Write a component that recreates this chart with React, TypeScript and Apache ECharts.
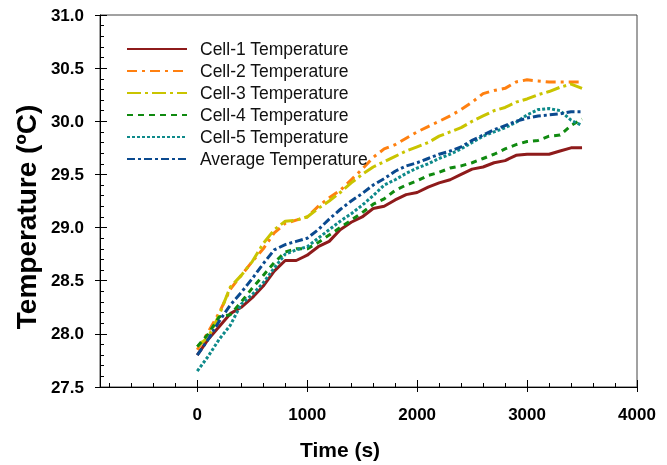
import React, { useEffect, useRef } from "react";
import * as echarts from "echarts";

const times = [0, 100, 200, 300, 400, 500, 600, 700, 800, 900, 1000, 1100, 1200, 1300, 1400, 1500, 1600, 1700, 1800, 1900, 2000, 2100, 2200, 2300, 2400, 2500, 2600, 2700, 2800, 2900, 3000, 3100, 3200, 3300, 3400, 3500];

const cell1 = [27.8, 27.95, 28.07, 28.19, 28.25, 28.34, 28.45, 28.59, 28.69, 28.69, 28.74, 28.82, 28.87, 28.98, 29.05, 29.1, 29.18, 29.2, 29.26, 29.31, 29.33, 29.38, 29.42, 29.45, 29.5, 29.55, 29.57, 29.61, 29.63, 29.68, 29.69, 29.69, 29.69, 29.72, 29.75, 29.75];
const cell2 = [27.85, 28.02, 28.2, 28.42, 28.55, 28.68, 28.8, 28.95, 29.04, 29.07, 29.1, 29.2, 29.28, 29.35, 29.45, 29.55, 29.66, 29.74, 29.78, 29.84, 29.9, 29.95, 30.0, 30.05, 30.11, 30.18, 30.26, 30.29, 30.31, 30.37, 30.39, 30.38, 30.37, 30.37, 30.37, 30.37];
const cell3 = [27.88, 27.97, 28.18, 28.44, 28.55, 28.68, 28.85, 28.98, 29.06, 29.07, 29.1, 29.18, 29.25, 29.33, 29.42, 29.5, 29.57, 29.62, 29.67, 29.72, 29.76, 29.8, 29.86, 29.9, 29.94, 30.0, 30.05, 30.1, 30.13, 30.18, 30.21, 30.25, 30.28, 30.32, 30.35, 30.31];
const cell4 = [27.88, 28.0, 28.16, 28.18, 28.3, 28.43, 28.55, 28.67, 28.77, 28.8, 28.8, 28.86, 28.93, 29.0, 29.07, 29.14, 29.22, 29.27, 29.35, 29.4, 29.44, 29.49, 29.52, 29.56, 29.58, 29.61, 29.65, 29.69, 29.74, 29.78, 29.81, 29.82, 29.86, 29.87, 29.96, 30.02];
const cell5 = [27.65, 27.79, 27.95, 28.08, 28.28, 28.37, 28.48, 28.62, 28.75, 28.79, 28.82, 28.9, 28.98, 29.06, 29.13, 29.21, 29.3, 29.4, 29.45, 29.51, 29.56, 29.6, 29.65, 29.69, 29.74, 29.8, 29.86, 29.9, 29.94, 29.99, 30.06, 30.11, 30.12, 30.1, 30.01, 29.96];
const average = [27.8, 27.95, 28.12, 28.27, 28.39, 28.52, 28.66, 28.79, 28.84, 28.87, 28.9, 28.98, 29.08, 29.17, 29.25, 29.32, 29.4, 29.46, 29.53, 29.58, 29.61, 29.65, 29.69, 29.72, 29.76, 29.82, 29.87, 29.92, 29.96, 30.0, 30.03, 30.05, 30.06, 30.07, 30.09, 30.09];

const xMajorTicks = [0, 1000, 2000, 3000, 4000];
const xMinorTicks = [-800, -600, -400, -200, 200, 400, 600, 800, 1200, 1400, 1600, 1800, 2200, 2400, 2600, 2800, 3200, 3400, 3600, 3800];

const seriesNames = ["Cell-1 Temperature", "Cell-2 Temperature", "Cell-3 Temperature", "Cell-4 Temperature", "Cell-5 Temperature", "Average Temperature"];
const seriesValues = [cell1, cell2, cell3, cell4, cell5, average];
const seriesColors = ["#8E1B1B", "#FF8010", "#C9C400", "#108A10", "#0E8A8A", "#0B4A8F"];
const seriesDashes: any[] = ["solid", [10, 5, 3, 5], [14, 4, 3, 4], [6, 5], [3, 2], [8, 3, 3, 3]];

const FONT = "'Liberation Sans', Arial, sans-serif";

export default function App() {
  const ref = useRef<HTMLDivElement>(null);
  useEffect(() => {
    const chart = echarts.init(ref.current!, null, { renderer: "svg" });
    const xBase = {
      type: "value",
      min: -885,
      max: 4000,
      position: "bottom",
      offset: 0,
      splitLine: { show: false },
    };
    const yBase = {
      type: "value",
      min: 27.5,
      max: 31,
      interval: 0.5,
      position: "left",
      offset: 0,
      splitLine: { show: false },
    };
    chart.setOption({
      animation: false,
      grid: {
        left: 100,
        right: 30,
        top: 15,
        bottom: 77,
        show: true,
        borderColor: "#444",
        borderWidth: 1,
      },
      legend: {
        orient: "vertical",
        left: 121,
        top: 35,
        itemWidth: 60,
        itemHeight: 14,
        itemGap: 4,
        itemStyle: { opacity: 0, borderWidth: 0 },
        textStyle: { fontSize: 17.5, lineHeight: 14, fontFamily: FONT, color: "#111", padding: [0, 0, 0, 8] },
        data: seriesNames,
      },
      xAxis: [
        {
          ...xBase,
          axisLine: { show: true, onZero: false, lineStyle: { color: "#000", width: 1 } },
          axisTick: { show: true, inside: true, length: 7, customValues: xMajorTicks, lineStyle: { color: "#000" } },
          axisLabel: {
            customValues: xMajorTicks,
            margin: 19,
            fontFamily: FONT,
            fontWeight: "bold",
            fontSize: 17,
            color: "#000",
            formatter: (v: number) => String(v),
          },
          name: "Time (s)",
          nameLocation: "middle",
          nameGap: 52,
          nameTextStyle: { fontSize: 21, fontWeight: "bold", fontFamily: FONT, color: "#000", padding: [0, 57, 0, 0] },
        },
        {
          ...xBase,
          axisLine: { show: false, onZero: false },
          axisTick: { show: true, inside: false, length: 5, customValues: xMajorTicks, lineStyle: { color: "#000" } },
          axisLabel: { show: false },
        },
        {
          ...xBase,
          axisLine: { show: false, onZero: false },
          axisTick: { show: true, inside: true, length: 4, customValues: xMinorTicks, lineStyle: { color: "#000" } },
          axisLabel: { show: false },
        },
      ],
      yAxis: [
        {
          ...yBase,
          axisLine: { show: true, onZero: false, lineStyle: { color: "#000", width: 1 } },
          axisTick: { show: true, inside: true, length: 7, lineStyle: { color: "#000" } },
          minorTick: { show: true, splitNumber: 5, length: 4, lineStyle: { color: "#000" } },
          axisLabel: {
            margin: 16,
            fontFamily: FONT,
            fontWeight: "bold",
            fontSize: 17,
            color: "#000",
            formatter: (v: number) => v.toFixed(1),
          },
          name: "Temperature (ºC)",
          nameLocation: "middle",
          nameGap: 57,
          nameRotate: 90,
          nameTextStyle: { fontSize: 28, fontWeight: "bold", fontFamily: FONT, color: "#000", padding: [0, 32, 0, 0] },
        },
        {
          ...yBase,
          axisLine: { show: false, onZero: false },
          axisTick: { show: true, inside: false, length: 5, lineStyle: { color: "#000" } },
          axisLabel: { show: false },
        },
      ],
      series: seriesNames.map((name, i) => ({
        name,
        type: "line",
        xAxisIndex: 0,
        yAxisIndex: 0,
        symbol: "none",
        data: times.map((t, j) => [t, seriesValues[i][j]]),
        itemStyle: { color: seriesColors[i] },
        lineStyle: { color: seriesColors[i], width: 3, type: seriesDashes[i] },
      })),
    });
    return () => chart.dispose();
  }, []);
  return <div ref={ref} style={{ position: "fixed", left: 0, top: 0, width: 667, height: 465 }} />;
}
